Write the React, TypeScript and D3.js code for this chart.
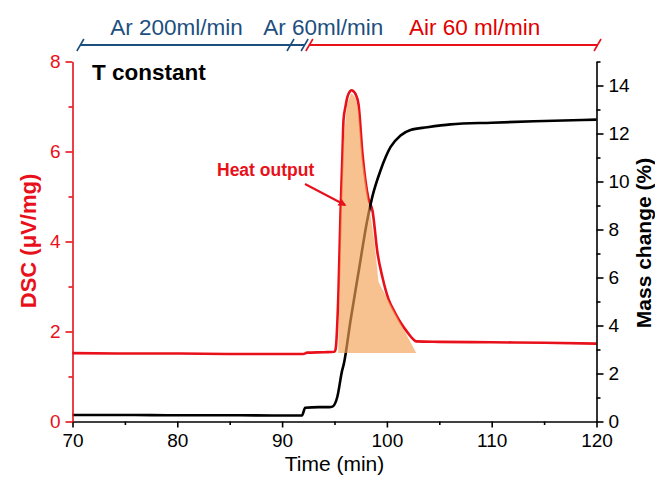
import React, { useEffect, useRef } from "react";
import * as d3 from "d3";

// ---- data ----
const dscTime = [70, 75, 80, 85, 90, 92.0, 92.4, 94.0, 95.0, 95.1, 95.38, 95.57, 95.76, 95.86, 96.05, 96.24, 96.45, 96.62, 96.8, 97.0, 97.29, 97.67, 98.24, 98.63, 99.1, 99.58, 100.15, 100.7, 101.3, 102.0, 102.5, 102.8, 105, 110, 115, 120];
const dscValues = [1.52, 1.51, 1.51, 1.5, 1.5, 1.5, 1.53, 1.54, 1.55, 1.6, 2.9, 4.6, 5.95, 6.7, 7.0, 7.22, 7.33, 7.36, 7.34, 7.28, 7.05, 5.95, 4.95, 4.68, 3.75, 3.2, 2.72, 2.45, 2.2, 1.97, 1.83, 1.78, 1.77, 1.76, 1.75, 1.73];

const massTime = [70, 75, 80, 85, 90, 91.9, 92.2, 93.5, 94.5, 94.8, 95.26, 95.73, 95.89, 96.53, 97.32, 98.12, 98.6, 99.39, 100.34, 101.3, 102.25, 103.84, 106.07, 110, 115, 120];
const massValues = [0.27, 0.27, 0.26, 0.26, 0.25, 0.25, 0.57, 0.6, 0.6, 0.62, 1.01, 2.13, 2.4, 4.21, 6.29, 8.38, 9.35, 10.46, 11.43, 11.92, 12.15, 12.26, 12.38, 12.45, 12.52, 12.58];

const fillTime = [95.35, 95.6, 95.85, 96.2, 96.6, 97.0, 97.3, 97.7, 98.3, 98.8, 99.2, 102.8];
const fillValues = [1.52, 4.6, 6.2, 7.05, 7.3, 7.2, 6.9, 5.8, 4.8, 4.0, 3.1, 1.52];

const xTicks = [70, 80, 90, 100, 110, 120];
const xMinor = [75, 85, 95, 105, 115];
const yLeftTicks = [0, 2, 4, 6, 8];
const yLeftMinor = [1, 3, 5, 7];
const yRightTicks = [0, 2, 4, 6, 8, 10, 12, 14];
const yRightMinor = [1, 3, 5, 7, 9, 11, 13, 15];

const phaseLabels = ["Ar 200ml/min", "Ar 60ml/min", "Air 60 ml/min"];
const phaseLabelTimes = [73.6, 88.2, 102.1];
const blueBracket = [70.75, 92.15];
const blueBreaks = [70.75, 90.8, 92.15];
const redBracket = [92.6, 120.1];
const redBreaks = [92.6, 120.1];

const W = 655;
const H = 480;
const RED = "#e8101a";
const BLUE = "#1d4f7e";
const FONT = "'Liberation Sans', Arial, sans-serif";

export default function App() {
  const ref = useRef<SVGSVGElement>(null);

  useEffect(() => {
    const svg = d3.select(ref.current);
    svg.selectAll("*").remove();

    const x = d3.scaleLinear().domain([70, 120]).range([72.5, 596.5]);
    const yL = d3.scaleLinear().domain([0, 8]).range([421.5, 61.5]);
    const yR = d3.scaleLinear().domain([0, 15]).range([421.5, 61.5]);

    // DSC curve
    const lineL = d3
      .line<number>()
      .x((_, i) => x(dscTime[i]))
      .y((d) => yL(d))
      .curve(d3.curveMonotoneX);
    svg
      .append("path")
      .attr("d", lineL(dscValues))
      .attr("fill", "none")
      .attr("stroke", RED)
      .attr("stroke-width", 2.6)
      .attr("stroke-linejoin", "round");

    // Mass curve
    const lineR = d3
      .line<number>()
      .x((_, i) => x(massTime[i]))
      .y((d) => yR(d))
      .curve(d3.curveMonotoneX);
    svg
      .append("path")
      .attr("d", lineR(massValues))
      .attr("fill", "none")
      .attr("stroke", "#000")
      .attr("stroke-width", 2.6)
      .attr("stroke-linejoin", "round");

    // heat output fill
    const area = d3
      .line<number>()
      .x((_, i) => x(fillTime[i]))
      .y((d) => yL(d));
    svg
      .append("path")
      .attr("d", area(fillValues) + "Z")
      .attr("fill", "#f5a055")
      .attr("fill-opacity", 0.65)
      .attr("stroke", "none");

    // axes
    const styleAxis = (g: any, color: string) => {
      g.select(".domain").attr("stroke", color).attr("stroke-width", 1.6);
      g.selectAll(".tick line").attr("stroke", color).attr("stroke-width", 1.6);
      g.selectAll(".tick text")
        .attr("fill", color)
        .style("font-family", FONT)
        .style("font-size", "19px");
    };

    // bottom
    const gx = svg.append("g").attr("transform", `translate(0,${yL(0)})`);
    gx.call(
      d3.axisBottom(x).tickValues(xTicks).tickSize(6).tickPadding(6).tickSizeOuter(0)
    );
    styleAxis(gx, "#000");
    const gxm = svg.append("g").attr("transform", `translate(0,${yL(0)})`);
    gxm.call(d3.axisBottom(x).tickValues(xMinor).tickSize(3.5).tickFormat(() => "").tickSizeOuter(0));
    gxm.select(".domain").remove();
    gxm.selectAll(".tick line").attr("stroke", "#000").attr("stroke-width", 1.6);

    // left
    const gl = svg.append("g").attr("transform", `translate(${x(70)},0)`);
    gl.call(d3.axisLeft(yL).tickValues(yLeftTicks).tickSize(7).tickPadding(5).tickSizeOuter(0));
    styleAxis(gl, RED);
    const glm = svg.append("g").attr("transform", `translate(${x(70)},0)`);
    glm.call(d3.axisLeft(yL).tickValues(yLeftMinor).tickSize(4).tickFormat(() => "").tickSizeOuter(0));
    glm.select(".domain").remove();
    glm.selectAll(".tick line").attr("stroke", RED).attr("stroke-width", 1.6);

    // right
    const gr = svg.append("g").attr("transform", `translate(${x(120)},0)`);
    gr.call(d3.axisRight(yR).tickValues(yRightTicks).tickSize(7).tickPadding(5).tickSizeOuter(0));
    styleAxis(gr, "#000");
    const grm = svg.append("g").attr("transform", `translate(${x(120)},0)`);
    grm.call(d3.axisRight(yR).tickValues(yRightMinor).tickSize(4).tickFormat(() => "").tickSizeOuter(0));
    grm.select(".domain").remove();
    grm.selectAll(".tick line").attr("stroke", "#000").attr("stroke-width", 1.6);

    // axis titles
    svg
      .append("text")
      .attr("transform", `translate(${x(95)},${471}) `)
      .attr("text-anchor", "middle")
      .style("font-family", FONT)
      .style("font-size", "21px")
      .attr("fill", "#000")
      .text("Time (min)");
    svg
      .append("text")
      .attr("transform", `translate(${36},${241}) rotate(-90)`)
      .attr("text-anchor", "middle")
      .style("font-family", FONT)
      .style("font-size", "22px")
      .style("font-weight", "bold")
      .attr("fill", RED)
      .text("DSC (\u03bcV/mg)");
    svg
      .append("text")
      .attr("transform", `translate(${651},${243}) rotate(-90)`)
      .attr("text-anchor", "middle")
      .style("font-family", FONT)
      .style("font-size", "21px")
      .style("font-weight", "bold")
      .attr("fill", "#000")
      .text("Mass change (%)");

    // T constant
    svg
      .append("text")
      .attr("x", 92)
      .attr("y", 80)
      .style("font-family", FONT)
      .style("font-size", "22.5px")
      .style("font-weight", "bold")
      .attr("fill", "#000")
      .text("T constant");

    // Heat output annotation
    svg
      .append("text")
      .attr("x", 217)
      .attr("y", 176)
      .style("font-family", FONT)
      .style("font-size", "17.5px")
      .style("font-weight", "bold")
      .attr("fill", RED)
      .text("Heat output");
    const defs = svg.append("defs");
    defs
      .append("marker")
      .attr("id", "arrow")
      .attr("viewBox", "0 0 10 10")
      .attr("refX", 8)
      .attr("refY", 5)
      .attr("markerWidth", 4)
      .attr("markerHeight", 4)
      .attr("orient", "auto")
      .append("path")
      .attr("d", "M0,0 L10,5 L0,10 Z")
      .attr("fill", RED);
    svg
      .append("line")
      .attr("x1", 305)
      .attr("y1", 184)
      .attr("x2", 345)
      .attr("y2", 205)
      .attr("stroke", RED)
      .attr("stroke-width", 2)
      .attr("marker-end", "url(#arrow)");

    // top brackets
    const by = 45;
    const slash = (t: number, color: string) => {
      svg
        .append("line")
        .attr("x1", x(t) - 3.5)
        .attr("y1", by + 6)
        .attr("x2", x(t) + 3.5)
        .attr("y2", by - 6)
        .attr("stroke", color)
        .attr("stroke-width", 1.6);
    };
    svg
      .append("line")
      .attr("x1", x(blueBracket[0]))
      .attr("x2", x(blueBracket[1]))
      .attr("y1", by)
      .attr("y2", by)
      .attr("stroke", BLUE)
      .attr("stroke-width", 1.8);
    blueBreaks.forEach((t) => slash(t, BLUE));
    svg
      .append("line")
      .attr("x1", x(redBracket[0]))
      .attr("x2", x(redBracket[1]))
      .attr("y1", by)
      .attr("y2", by)
      .attr("stroke", RED)
      .attr("stroke-width", 1.8);
    redBreaks.forEach((t) => slash(t, RED));

    phaseLabels.forEach((lab, i) => {
      svg
        .append("text")
        .attr("x", x(phaseLabelTimes[i]))
        .attr("y", 35)
        .style("font-family", FONT)
        .style("font-size", "22.5px")
        .attr("fill", i < 2 ? BLUE : "#e00000")
        .text(lab);
    });
  }, []);

  return (
    <svg
      ref={ref}
      width={W}
      height={H}
      style={{ position: "absolute", left: 0, top: 0, background: "#fff" }}
    />
  );
}
